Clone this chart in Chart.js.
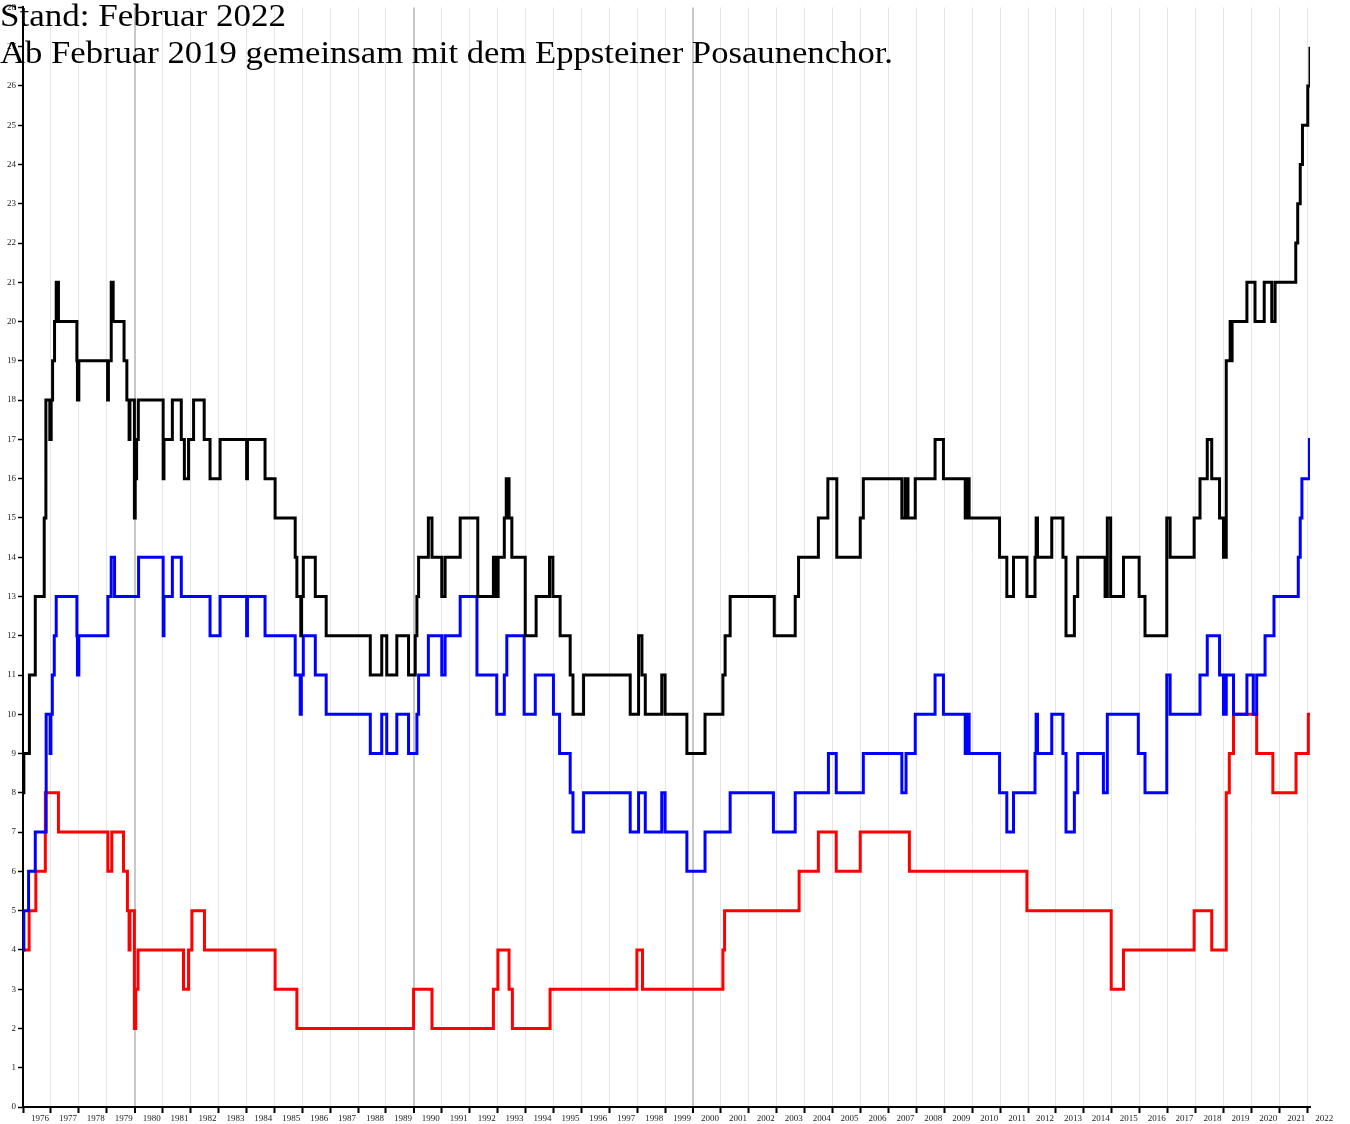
<!DOCTYPE html>
<html><head><meta charset="utf-8">
<script src="https://cdn.jsdelivr.net/npm/chart.js@4"></script>
<style>
html,body{margin:0;padding:0;background:#fff;}
#wrap{position:relative;width:1350px;height:1124px;overflow:hidden;}
canvas{position:absolute;left:0;top:0;}
.note{position:absolute;left:0;font-family:'Liberation Serif','DejaVu Serif',serif;font-size:31px;color:#000;white-space:nowrap;transform-origin:0 0;line-height:1;}
</style></head><body>
<div id="wrap"><canvas id="c" width="1350" height="1124"></canvas>
<div class="note" id="n1" style="top:0px" data-w="286">Stand: Februar 2022</div>
<div class="note" id="n2" style="top:37px" data-w="893">Ab Februar 2019 gemeinsam mit dem Eppsteiner Posaunenchor.</div>
</div>
<script>
// ---- Data (decimal year of each change, value from that date on) ----
const gesamtT = [1976.00,1976.03,1976.23,1976.44,1976.76,1976.82,1976.96,1977.01,1977.06,1977.13,
  1977.19,1977.27,1977.93,1977.95,1978.00,1979.03,1979.06,1979.16,1979.23,1979.62,
  1979.72,1979.80,1979.83,1979.99,1980.02,1980.07,1980.13,1981.02,1981.05,1981.35,
  1981.67,1981.78,1981.93,1982.11,1982.49,1982.70,1983.06,1984.01,1984.04,1984.67,
  1985.03,1985.75,1985.81,1985.95,1985.98,1986.04,1986.47,1986.86,1988.44,1988.85,
  1989.03,1989.39,1989.81,1990.05,1990.11,1990.17,1990.52,1990.65,1991.00,1991.12,
  1991.66,1992.29,1992.85,1992.95,1993.02,1993.24,1993.31,1993.41,1993.51,1993.99,
  1994.38,1994.86,1994.98,1995.24,1995.60,1995.70,1996.08,1997.75,1998.05,1998.17,
  1998.29,1998.88,1999.00,1999.78,2000.43,2001.07,2001.15,2001.33,2002.91,2003.66,
  2003.78,2004.49,2004.83,2005.15,2005.99,2006.10,2007.48,2007.60,2007.70,2007.96,
  2008.67,2008.97,2009.75,2009.82,2009.89,2010.98,2011.24,2011.48,2011.96,2012.25,
  2012.29,2012.34,2012.85,2013.25,2013.36,2013.66,2013.78,2014.76,2014.84,2014.96,
  2015.42,2015.98,2016.19,2016.97,2017.09,2017.95,2018.16,2018.42,2018.58,2018.86,
  2019.00,2019.10,2019.24,2019.27,2019.31,2019.84,2020.13,2020.46,2020.73,2020.85,
  2021.59,2021.66,2021.75,2021.83,2022.02,2022.10];
const gesamtV = [8,9,11,13,15,18,17,18,19,20,
  21,20,19,18,19,18,19,21,20,19,
  18,17,18,15,16,17,18,16,17,18,
  17,16,17,18,17,16,17,16,17,16,
  15,14,13,12,13,14,13,12,11,12,
  11,12,11,12,13,14,15,14,13,14,
  15,13,14,13,14,15,16,15,14,12,
  13,14,13,12,11,10,11,10,12,11,
  10,11,10,9,10,11,12,13,12,13,
  14,15,16,14,15,16,15,16,15,16,
  17,16,15,16,15,14,13,14,13,14,
  15,14,15,14,12,13,14,13,15,13,
  14,13,12,15,14,15,16,17,16,15,
  14,19,20,19,20,21,20,21,20,21,
  22,23,24,25,26,27];

const blauT = [1976.00,1976.03,1976.20,1976.44,1976.83,1976.97,1977.00,1977.05,1977.12,1977.19,
  1977.93,1977.95,1978.00,1979.04,1979.16,1979.28,1980.14,1981.02,1981.05,1981.35,
  1981.67,1982.70,1983.06,1984.01,1984.04,1984.67,1985.75,1985.93,1985.97,1986.04,
  1986.47,1986.86,1988.44,1988.85,1989.03,1989.39,1989.81,1990.11,1990.17,1990.52,
  1991.00,1991.12,1991.66,1992.26,1992.97,1993.24,1993.33,1993.95,1994.35,1995.00,
  1995.22,1995.60,1995.70,1996.08,1997.75,1998.05,1998.29,1998.88,1999.00,1999.78,
  2000.43,2001.33,2002.88,2003.66,2004.85,2005.13,2006.10,2007.48,2007.63,2007.96,
  2008.67,2008.97,2009.75,2009.82,2009.89,2010.98,2011.24,2011.48,2012.25,2012.29,
  2012.34,2012.85,2013.25,2013.36,2013.66,2013.78,2014.70,2014.84,2015.95,2016.19,
  2016.97,2017.09,2018.16,2018.42,2018.86,2019.00,2019.10,2019.36,2019.84,2020.07,
  2020.19,2020.49,2020.81,2021.68,2021.75,2021.81,2022.08,2022.10];
const blauV = [4,5,6,7,10,9,10,11,12,13,
  12,11,12,13,14,13,14,12,13,14,
  13,12,13,12,13,12,11,10,11,12,
  11,10,9,10,9,10,9,10,11,12,
  11,12,13,11,10,11,12,10,11,10,
  9,8,7,8,7,8,7,8,7,6,
  7,8,7,8,9,8,9,8,9,10,
  11,10,9,10,9,8,7,8,9,10,
  9,10,9,7,8,9,8,10,9,8,
  11,10,11,12,11,10,11,10,11,10,
  11,12,13,14,15,16,17,17];

const rotT = [1976.00,1976.22,1976.46,1976.80,1977.27,1979.04,1979.18,1979.60,1979.74,1979.80,
  1979.83,1979.99,1980.04,1980.12,1981.75,1981.93,1982.05,1982.50,1985.03,1985.81,
  1989.99,1990.65,1992.85,1993.01,1993.41,1993.53,1994.88,1997.99,1998.19,2001.07,
  2001.13,2003.80,2004.49,2005.13,2005.99,2007.75,2011.96,2014.98,2015.42,2017.95,
  2018.58,2019.10,2019.21,2019.36,2020.19,2020.77,2021.60,2022.04,2022.10];
const rotV = [4,5,6,8,7,6,7,6,5,4,
  5,2,3,4,3,4,5,4,3,2,
  3,2,3,4,3,2,3,4,3,4,
  5,6,7,6,7,6,5,3,4,5,
  4,8,9,10,9,8,9,10,10];

const xMin = 1976, xMax = 2022.1, yMin = 0, yMax = 28;
const darkGridYears = [1980, 1990, 2000];

const toPts = (T, V) => T.map((t, i) => ({x: t, y: V[i]}));
const tickFont = {family: "'Liberation Serif','DejaVu Serif',serif", size: 9};

// stretch header text to the reference width
document.querySelectorAll('.note').forEach(el => {
  const w = el.getBoundingClientRect().width;
  el.style.transform = 'scaleX(' + (parseFloat(el.dataset.w) / w) + ')';
});

new Chart(document.getElementById('c'), {
  type: 'line',
  data: {
    datasets: [
      {label: 'Gesamt', data: toPts(gesamtT, gesamtV), borderColor: '#000000'},
      {label: 'Blau', data: toPts(blauT, blauV), borderColor: '#0000ff'},
      {label: 'Rot', data: toPts(rotT, rotV), borderColor: '#ff0000'}
    ].map(d => Object.assign(d, {stepped: true, borderWidth: 3, pointRadius: 0, fill: false,
      borderJoinStyle: 'miter', borderCapStyle: 'butt', tension: 0}))
  },
  options: {
    responsive: false, animation: false, maintainAspectRatio: false,
    layout: {padding: {top: 6, right: 40, left: 0, bottom: 0}},
    plugins: {legend: {display: false}, tooltip: {enabled: false}, title: {display: false}},
    scales: {
      x: {
        type: 'linear', min: xMin, max: xMax,
        ticks: {stepSize: 1, includeBounds: false, autoSkip: false, maxRotation: 0, labelOffset: 17,
          padding: 0, color: '#222', font: tickFont, callback: v => String(v)},
        grid: {
          color: c => darkGridYears.includes(c.tick && c.tick.value) ? '#c8c8c8' : '#e6e6e6',
          lineWidth: c => darkGridYears.includes(c.tick && c.tick.value) ? 2 : 1,
          tickColor: '#000', tickLength: 6, tickWidth: 2
        },
        border: {color: '#000', width: 2},
        afterFit: s => { s.height = 17; }
      },
      y: {
        min: yMin, max: yMax,
        ticks: {stepSize: 1, autoSkip: false, padding: 2, color: '#222', font: tickFont},
        grid: {drawOnChartArea: false, tickColor: '#000', tickLength: 5, tickWidth: 1.5},
        border: {color: '#000', width: 2},
        afterFit: s => { s.width = 23; }
      }
    }
  }
});
</script>
</body></html>
